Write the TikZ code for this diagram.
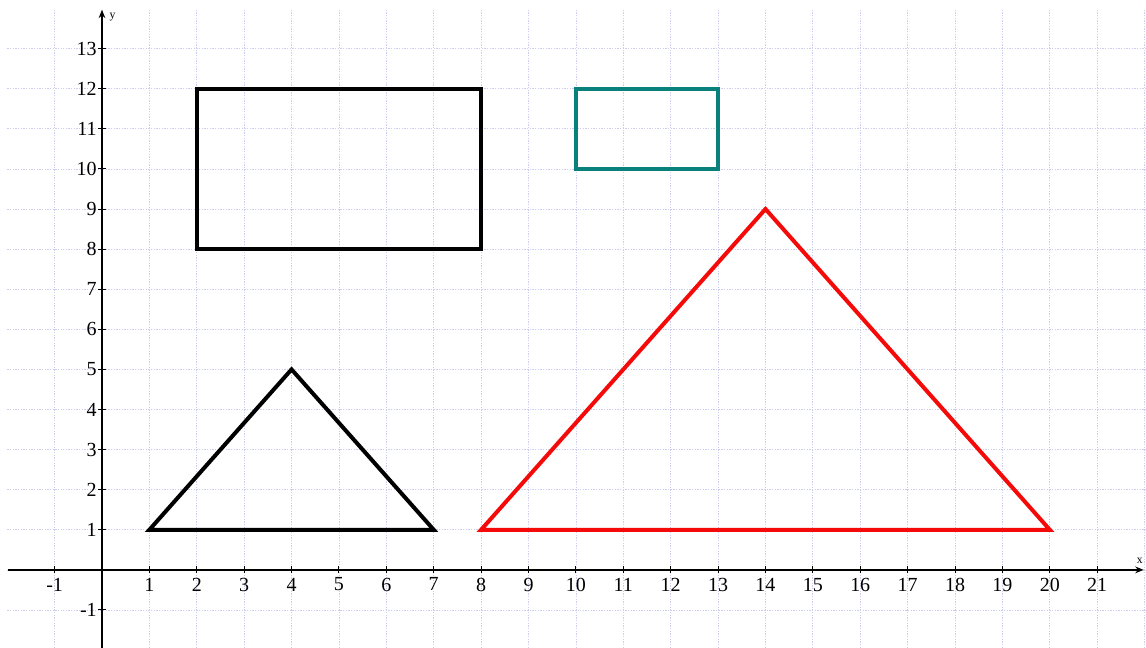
\documentclass[tikz,border=0pt]{standalone}
\usepackage{fontspec}
\setmainfont{Liberation Serif}
\usetikzlibrary{arrows.meta}
\definecolor{gridlav}{RGB}{205,205,240}
\definecolor{shapeteal}{RGB}{10,128,125}
\definecolor{shapered}{RGB}{245,10,10}
\begin{document}
\begin{tikzpicture}[x=1cm, y=0.846cm,
    >={Stealth[length=5pt,width=4pt]},
    gridline/.style={gridlav, line width=0.45pt, dash pattern=on 0.8pt off 0.8pt},
    axisline/.style={->, black, line width=0.8pt},
    tickmark/.style={black, line width=0.6pt},
    ticklabel/.style={font=\fontsize{12}{14}\selectfont, inner sep=1pt},
    axislabel/.style={font=\fontsize{7}{8}\selectfont, inner sep=1pt},
    figline/.style={line width=2.4pt, line join=miter}
]
\useasboundingbox (-2.152,-1.945) rectangle (22.03,14.214);

% grid
\foreach \gx in {-1,...,22}
  \draw[gridline] (\gx,-1.945) -- (\gx,14);
\foreach \gy in {-1,...,13}
  \draw[gridline] (-2,\gy) -- (22.03,\gy);

% axes
\coordinate (xs) at (-1.98,0);
\coordinate (xe) at (21.98,0);
\coordinate (ys) at (0,-1.945);
\coordinate (ye) at (0,13.97);
\draw[axisline] (xs) -- (xe);
\draw[axisline] (ys) -- (ye);
\node[axislabel, anchor=south] (xlab) at (21.9,0.12) {x};
\node[axislabel, anchor=west] (ylab) at (0.12,13.8) {y};

\foreach \x in {-1,1,2,...,21} {
  \draw[tickmark] (\x,-0.09) -- (\x,0.09);
  \node[ticklabel, anchor=north, yshift=-3.6pt] (xl\x) at (\x,0) {\x};
}
\foreach \y in {-1,1,2,...,13} {
  \draw[tickmark] (-0.08,\y) -- (0.08,\y);
  \node[ticklabel, anchor=east, xshift=-2pt] (yl\y) at (0,\y) {\y};
}

% shapes
\draw[figline, black] (2,8) rectangle (8,12);
\draw[figline, shapeteal] (10,10) rectangle (13,12);
\draw[figline, black] (1,1) -- (4,5) -- (7,1) -- cycle;
\draw[figline, shapered] (8,1) -- (14,9) -- (20,1) -- cycle;

\end{tikzpicture}
\end{document}
